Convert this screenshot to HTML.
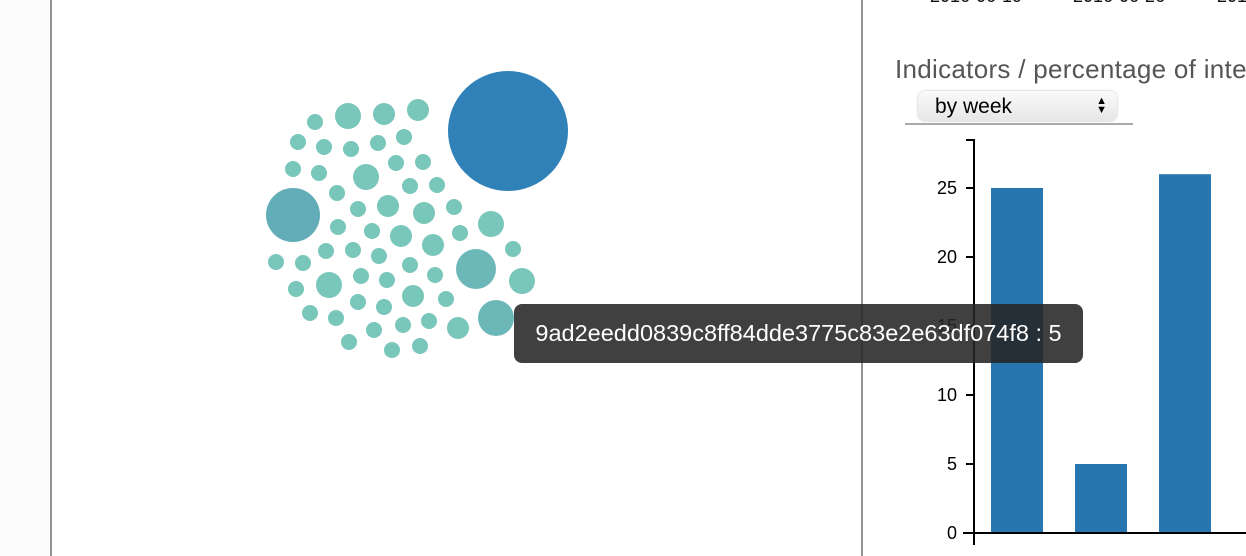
<!DOCTYPE html>
<html><head><meta charset="utf-8"><style>
body{margin:0;width:1246px;height:556px;overflow:hidden;background:#fff;font-family:"Liberation Sans",sans-serif;position:relative}
#lbg{position:absolute;left:0;top:0;width:50px;height:556px;background:#fcfcfc}
.vl{position:absolute;top:0;width:2px;height:556px;background:#939393}
#title{position:absolute;left:895px;top:54px;font-size:26px;letter-spacing:0.3px;color:#555;white-space:nowrap}
#sel{position:absolute;left:918px;top:91px;width:199px;height:30px;border-radius:7px;background:linear-gradient(#fafafa,#e6e6e6);box-shadow:0 0 2px #bbb;font-size:21px;line-height:32px;box-sizing:border-box;padding-left:17px}
#sel span{position:absolute;right:10px;top:0px;font-size:11px;line-height:9px;padding-top:6px}
#uline{position:absolute;left:905px;top:123px;width:228px;height:2px;background:#aaa}
#tip{position:absolute;left:514px;top:304px;width:569px;height:59px;border-radius:8px;background:rgba(38,38,38,0.88);color:#fff;font-size:23.5px;line-height:59px;text-align:center;white-space:nowrap}
.date{position:absolute;top:-14px;font-size:18px;color:#111;white-space:nowrap}
</style></head><body>
<div id="lbg"></div>
<div class="vl" style="left:50px"></div>
<div class="vl" style="left:861px"></div>
<div class="date" style="left:930px">2016-06-19</div>
<div class="date" style="left:1073px">2016-06-26</div>
<div class="date" style="left:1217px">2016-07-03</div>
<div id="title">Indicators / percentage of interactions</div>
<div id="sel">by week<span>▲<br>▼</span></div>
<div id="uline"></div>
<svg id="bub" width="1246" height="556" style="position:absolute;left:0;top:0"></svg>
<svg id="bar" width="1246" height="556" style="position:absolute;left:0;top:0"></svg>
<div id="tip">9ad2eedd0839c8ff84dde3775c83e2e63df074f8 : 5</div>
<script>
const bubbleX=[508,293,315,348,384,418,298,324,351,378,404,293,319,366,396,423,337,410,437,358,388,424,454,491,338,372,401,433,460,513,276,303,326,353,379,410,476,435,522,296,329,361,387,413,446,310,336,358,384,496,458,374,403,429,349,392,420];
const bubbleY=[131,215,122,116,114,110,142,147,149,143,137,169,173,177,163,162,193,186,185,209,206,213,207,224,227,231,236,245,233,249,262,263,251,250,256,265,269,275,281,289,285,276,280,296,299,313,318,302,307,318,328,330,325,321,342,350,346];
const bubbleR=[60,27,8,13,11,11,8,8,8,8,8,8,8,13,8,8,8,8,8,8,11,11,8,13,8,8,11,11,8,8,8,8,8,8,8,8,20,8,13,8,13,8,8,11,8,8,8,8,8,18,11,8,8,8,8,8,8];
const NS="http://www.w3.org/2000/svg";
const bub=document.getElementById('bub');
bubbleX.forEach((x,i)=>{
 const c=document.createElementNS(NS,'circle');
 c.setAttribute('cx',x);c.setAttribute('cy',bubbleY[i]);c.setAttribute('r',bubbleR[i]);
 const r=bubbleR[i];
 c.setAttribute('fill',r>=50?'#3181b9':r>=25?'#63adb8':r>=17?'#6cb8b9':'#79c6bb');
 
 
 bub.appendChild(c);
});
const categories=["Sunday","Monday","Tuesday"];
const values=[25,5,26];
const yTicks=[0,5,10,15,20,25];
const bar=document.getElementById('bar');
const y0=533,k=13.8,x0=991,step=84,bw=52;
const ys=v=>y0-v*k;
function el(t,a,p){const e=document.createElementNS(NS,t);for(const n in a)e.setAttribute(n,a[n]);(p||bar).appendChild(e);return e;}
values.forEach((v,i)=>{
 const r=el('rect',{x:x0+i*step,y:ys(v),width:bw,height:v*k,fill:'#2776b0'});
 
 
 const t=el('text',{x:x0+i*step+bw/2,y:568,'text-anchor':'middle','font-size':'17',fill:'#000'});
 t.textContent=categories[i];
 
 
});
yTicks.forEach(v=>{
 el('line',{x1:966,x2:974,y1:ys(v),y2:ys(v),stroke:'#000','stroke-width':2});
 const t=el('text',{x:957,y:ys(v)+6,'text-anchor':'end','font-size':'18',fill:'#000'});
 t.textContent=v;
 
 
});
const ya=el('path',{d:'M966 140H974V545',stroke:'#000','stroke-width':2,fill:'none'});


const xa=el('line',{x1:963,x2:1246,y1:y0,y2:y0,stroke:'#000','stroke-width':2});


</script>
</body></html>
